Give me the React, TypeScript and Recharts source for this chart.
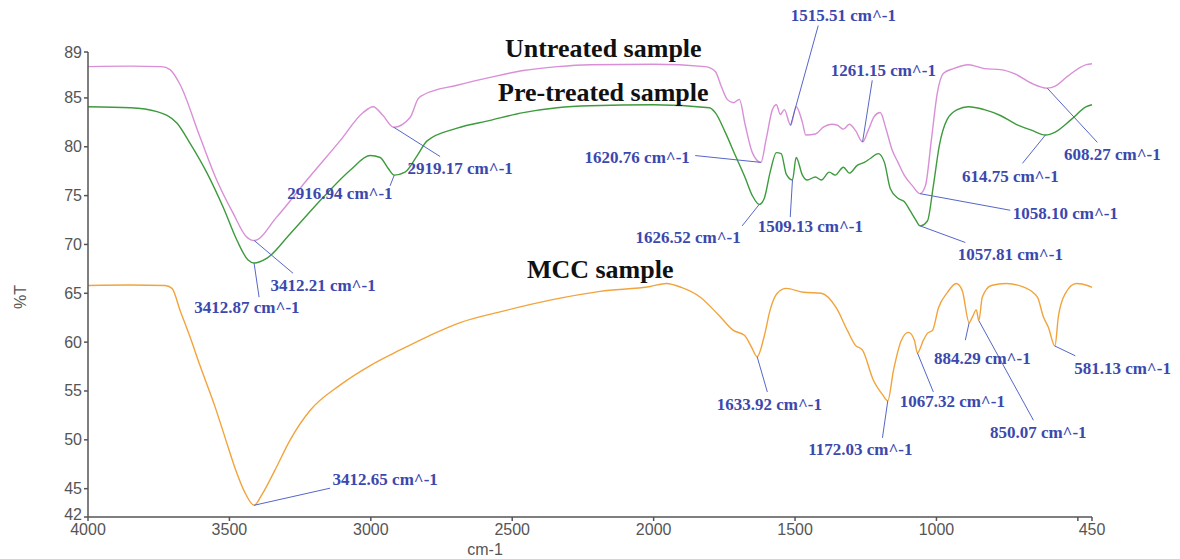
import React from 'react';
import { LineChart, Line, XAxis, YAxis, ReferenceLine, ReferenceDot } from 'recharts';

// FTIR spectra, [wavenumber cm-1, %T]
const untreated: [number, number][] = [
  [4000, 88.2], [3850, 88.25], [3740, 88.2], [3710, 87.9], [3675, 86.4], [3604, 81.0],
  [3545, 76.6], [3487, 73.2], [3440, 70.8], [3412.21, 70.4], [3333, 72.8], [3226, 76.6],
  [3109, 80.6], [3027, 83.5], [2992, 84.1], [2957, 83.2], [2919.17, 82.0], [2861, 83.0],
  [2833, 84.9], [2815, 85.3], [2695, 86.3], [2578, 87.1], [2461, 87.8], [2341, 88.2],
  [2224, 88.4], [2000, 88.45], [1817, 88.2], [1782, 87.7], [1761, 86.2], [1740, 84.85],
  [1718, 84.5], [1697, 84.85], [1676, 82.2], [1651, 79.4], [1620.76, 78.4], [1602, 80.8],
  [1580, 83.8], [1566, 84.3], [1552, 83.3], [1538, 83.8], [1515.51, 82.2], [1496, 84.1],
  [1474, 82.5], [1462, 81.2], [1428, 81.3], [1400, 82.0], [1371, 82.3], [1350, 82.2],
  [1329, 81.8], [1308, 82.3], [1287, 81.7], [1261.15, 80.5], [1241, 81.7], [1220, 83.1],
  [1199, 83.5], [1178, 81.8], [1157, 79.7], [1136, 78.4], [1114, 77.1], [1085, 76.0],
  [1058.1, 75.2], [1039, 76.0], [1018, 80.7], [997, 85.5], [976, 87.5], [940, 88.0],
  [887, 88.4], [831, 88.0], [774, 87.9], [718, 87.4], [664, 86.5], [608.27, 86.0],
  [580, 86.2], [537, 87.2], [470, 88.4], [450, 88.5],
];

const pretreated: [number, number][] = [
  [4000, 84.1], [3850, 84.0], [3756, 83.6], [3685, 82.4], [3639, 80.35], [3579, 77.3],
  [3522, 73.8], [3473, 70.4], [3434, 68.4], [3412.87, 68.1], [3367, 68.6], [3285, 71.1],
  [3169, 74.8], [3073, 77.6], [3002, 79.1], [2967, 78.9], [2939, 77.8], [2916.94, 77.1],
  [2879, 77.4], [2836, 79.1], [2801, 80.6], [2695, 81.9], [2578, 82.7], [2461, 83.5],
  [2341, 84.0], [2224, 84.2], [2000, 84.3], [1803, 84.0], [1782, 83.5], [1747, 81.5],
  [1711, 79.1], [1676, 76.8], [1651, 75.0], [1626.52, 74.1], [1609, 74.7], [1588, 77.4],
  [1566, 79.4], [1549, 79.3], [1531, 77.2], [1509.13, 76.6], [1496, 78.9], [1474, 77.1],
  [1457, 76.6], [1428, 76.9], [1407, 76.6], [1379, 77.4], [1358, 77.1], [1329, 77.9],
  [1308, 77.3], [1280, 78.1], [1255, 78.4], [1234, 78.8], [1206, 79.3], [1184, 78.4],
  [1163, 75.7], [1135, 74.7], [1114, 74.4], [1092, 73.4], [1075, 72.6], [1057.81, 71.9],
  [1032, 72.4], [1011, 76.0], [990, 80.1], [962, 82.8], [926, 83.8], [887, 84.1],
  [831, 83.8], [774, 83.2], [718, 82.3], [664, 81.7], [614.75, 81.2], [580, 81.5],
  [523, 82.8], [470, 84.1], [450, 84.3],
];

const mcc: [number, number][] = [
  [4000, 65.8], [3850, 65.85], [3728, 65.8], [3703, 65.5], [3675, 63.3], [3640, 60.6],
  [3604, 57.6], [3551, 53.4], [3515, 50.2], [3480, 47.1], [3445, 44.6], [3412.65, 43.3],
  [3385, 44.4], [3339, 46.9], [3285, 50.0], [3215, 53.0], [3109, 55.6], [3002, 57.6],
  [2896, 59.2], [2790, 60.7], [2684, 62.0], [2543, 63.1], [2366, 64.3], [2189, 65.2],
  [2012, 65.7], [1955, 66.0], [1902, 65.6], [1835, 64.6], [1771, 62.8], [1718, 61.2],
  [1679, 60.7], [1654, 59.5], [1633.92, 58.5], [1609, 60.6], [1588, 63.3], [1563, 65.0],
  [1531, 65.5], [1471, 65.1], [1407, 65.0], [1354, 63.5], [1315, 61.2], [1287, 59.7],
  [1262, 59.2], [1223, 56.1], [1190, 54.6], [1172.03, 54.0], [1152, 57.1], [1124, 60.2],
  [1099, 61.0], [1078, 60.2], [1067.32, 58.9], [1046, 60.2], [1032, 60.9], [1014, 61.2],
  [993, 63.5], [961, 65.1], [930, 66.0], [909, 65.3], [884.29, 62.0], [874, 62.5],
  [859, 63.3], [850.07, 62.2], [838, 64.6], [806, 65.8], [753, 66.0], [689, 65.6],
  [643, 64.6], [622, 62.6], [604, 61.5], [581.13, 59.6], [569, 62.6], [544, 65.0],
  [505, 66.0], [466, 65.8], [450, 65.6],
];

const xTicks = [4000, 3500, 3000, 2500, 2000, 1500, 1000, 500, 450];
const yTicks = [42.1, 45, 50, 55, 60, 65, 70, 75, 80, 85, 89.7];

const seriesNames = ['Untreated sample', 'Pre-treated sample', 'MCC sample'];

// labelled peaks: series index + wavenumber
const peaks: [number, number][] = [
  [0, 3412.21], [1, 3412.87], [1, 2916.94], [0, 2919.17], [0, 1515.51], [0, 1261.15],
  [0, 1620.76], [1, 1626.52], [1, 1509.13], [0, 1058.1], [1, 1057.81], [0, 608.27],
  [1, 614.75], [2, 3412.65], [2, 1633.92], [2, 1172.03], [2, 1067.32], [2, 884.29],
  [2, 850.07], [2, 581.13],
];

// where each peak label sits and where its leader line ends (axis units)
const peakLayout = [
  { at: [3169, 65.8], end: [3275, 67.05] },
  { at: [3438, 63.5], end: [3395, 64.6] },
  { at: [3109, 75.2], end: [2932, 76.0] },
  { at: [2684, 77.8], end: [2755, 79.0] },
  { at: [1329, 93.4], end: [1418, 92.4] },
  { at: [1188, 87.8], end: [1227, 86.8] },
  { at: [2058, 78.9], end: [1853, 79.1] },
  { at: [1878, 70.7], end: [1687, 71.9] },
  { at: [1446, 71.8], end: [1517, 72.8] },
  { at: [544, 73.2], end: [739, 73.5] },
  { at: [739, 69.0], end: [898, 70.2] },
  { at: [378, 79.2], end: [431, 80.45] },
  { at: [739, 77.0], end: [696, 78.3] },
  { at: [2949, 45.9], end: [3144, 45.05] },
  { at: [1591, 53.6], end: [1598, 54.9] },
  { at: [1269, 49.0], end: [1191, 50.2] },
  { at: [944, 53.9], end: [1011, 54.9] },
  { at: [838, 58.3], end: [898, 60.2] },
  { at: [640, 50.8], end: [657, 52.0] },
  { at: [342, 57.3], end: [509, 58.6] },
];
const titleLayout = [[2178, 90.1], [2178, 85.6], [2189, 67.4]];

const seriesData = [untreated, pretreated, mcc];
const seriesColors = ['#d98fd6', '#3d9a3d', '#f2a43c'];

const axisFont = '"Liberation Sans", Arial, sans-serif';
const serifFont = '"Liberation Serif", "Times New Roman", serif';
const blue = '#3b48ae';

const rows = (pts: [number, number][]) => pts.map(([wn, t]) => ({ wn, t }));
const valueAt = (s: number, wn: number) => seriesData[s].find((p) => p[0] === wn)![1];

const textShape = (text: string, size: number, fill: string) => (p: any) => (
  <text
    x={p.cx}
    y={p.cy}
    textAnchor="middle"
    dominantBaseline="central"
    fontFamily={serifFont}
    fontWeight="bold"
    fontSize={size}
    fill={fill}
  >
    {text}
  </text>
);

// y tick: the bottom label sits a little higher so it clears "4000"
const YTick = (p: any) => {
  const v = p.payload.value;
  return (
    <text x={p.x} y={v === yTicks[0] ? p.y - 3 : p.y} textAnchor="end" dominantBaseline="central"
      fontSize={16} fontFamily={axisFont} fill="#555">
      {Math.floor(v)}
    </text>
  );
};

const App = () => {
  return (
    <div style={{ position: 'absolute', left: 0, top: 0, width: 1180, height: 559, background: '#fff' }}>
      <LineChart width={1180} height={559} margin={{ top: 52, right: 88, bottom: 12, left: 48 }}>
        <XAxis
          type="number"
          dataKey="wn"
          domain={[450, 4000]}
          reversed
          ticks={xTicks}
          interval={0}
          tickFormatter={(v: number) => (v === 500 ? '' : String(v))}
          tickSize={4}
          height={30}
          stroke="#555"
          strokeWidth={1.5}
          tick={{ fill: '#555', fontSize: 16, fontFamily: axisFont, dy: 1 }}
          label={{
            content: ({ viewBox }: any) => (
              <text x={viewBox.x + 397} y={viewBox.y + 32} textAnchor="middle" dominantBaseline="central"
                fontSize={16} fontFamily={axisFont} fill="#555">cm-1</text>
            ),
          }}
        />
        <YAxis
          type="number"
          domain={[42.1, 89.7]}
          ticks={yTicks}
          interval={0}
          tickSize={4}
          width={40}
          stroke="#555"
          strokeWidth={1.5}
          tick={<YTick />}
          label={{
            content: ({ viewBox }: any) => (
              <text x={viewBox.x - 28} y={viewBox.y + 245} textAnchor="middle" dominantBaseline="central"
                fontSize={16} fontFamily={axisFont} fill="#555"
                transform={`rotate(-90 ${viewBox.x - 28} ${viewBox.y + 245})`}>%T</text>
            ),
          }}
        />
        {seriesData.map((s, i) => (
          <Line
            key={seriesNames[i]}
            data={rows(s)}
            dataKey="t"
            name={seriesNames[i]}
            type="monotone"
            stroke={seriesColors[i]}
            strokeWidth={1.4}
            dot={false}
            isAnimationActive={false}
          />
        ))}
        {peaks.map(([s, wn], i) => (
          <ReferenceLine
            key={`lead-${i}`}
            segment={[
              { x: wn, y: valueAt(s, wn) },
              { x: peakLayout[i].end[0], y: peakLayout[i].end[1] },
            ]}
            stroke="#5566c8"
            strokeWidth={1}
            ifOverflow="visible"
          />
        ))}
        {peaks.map(([s, wn], i) => (
          <ReferenceDot
            key={`lab-${i}`}
            x={peakLayout[i].at[0]}
            y={peakLayout[i].at[1]}
            r={0}
            ifOverflow="visible"
            shape={textShape(`${wn.toFixed(2)} cm^-1`, 17, blue)}
          />
        ))}
        {seriesNames.map((name, i) => (
          <ReferenceDot
            key={`title-${i}`}
            x={titleLayout[i][0]}
            y={titleLayout[i][1]}
            r={0}
            ifOverflow="visible"
            shape={textShape(name, 26, '#111')}
          />
        ))}
      </LineChart>
    </div>
  );
};

export default App;
